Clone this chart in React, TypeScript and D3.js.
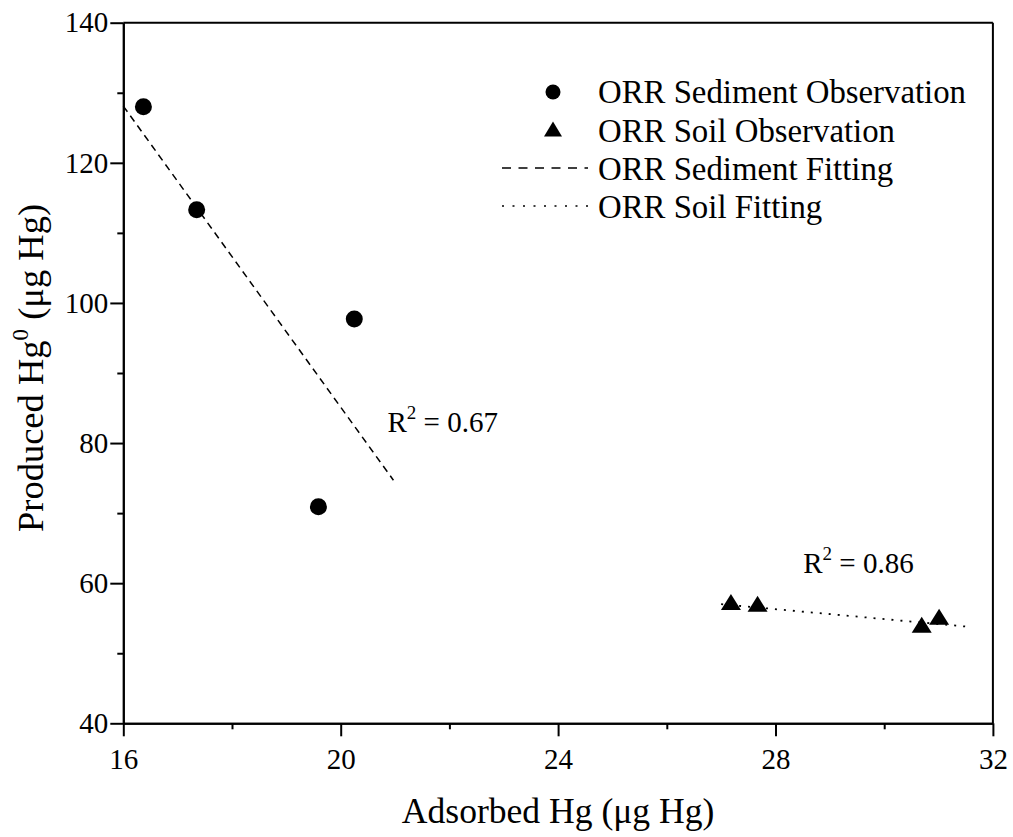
import React, { useEffect, useRef } from 'react';
import * as d3 from 'd3';

// values
const xTicks = [16, 20, 24, 28, 32];
const xMinorTicks = [18, 22, 26, 30];
const yTicks = [40, 60, 80, 100, 120, 140];
const yMinorTicks = [50, 70, 90, 110, 130];

const sedimentX = [16.37, 17.35, 20.25, 19.59];
const sedimentY = [128.0, 113.3, 97.7, 70.9];
const soilX = [27.18, 27.67, 30.69, 31.01];
const soilY = [57.3, 57.05, 54.05, 55.2];

const sedimentFitX = [16.0, 20.97];
const sedimentFitY = [128.1, 74.7];
const soilFitX = [27.0, 31.52];
const soilFitY = [57.0, 53.8];

const r2Labels = ['0.67', '0.86'];
const r2X = [20.86, 28.51];
const r2Y = [81.6, 61.4];

const legendLabels = [
    'ORR Sediment Observation',
    'ORR Soil Observation',
    'ORR Sediment Fitting',
    'ORR Soil Fitting',
];

const FONT = '"Liberation Serif", "Times New Roman", serif';

const trianglePath = (w, h) => `M0,${-h / 2}L${w / 2},${h / 2}L${-w / 2},${h / 2}Z`;

const createChart = (container) => {
    d3.select(container).selectAll('*').remove();

    const W = 1013, H = 837;
    const margin = { top: 22.7, right: 20.1, bottom: 113.7, left: 123.3 },
        width = W - margin.left - margin.right,
        height = H - margin.top - margin.bottom;

    const svg = d3.select(container)
        .attr('width', W)
        .attr('height', H);
    svg.append('rect').attr('width', W).attr('height', H).attr('fill', '#fff');

    const chart = svg.append('g')
        .attr('transform', `translate(${margin.left},${margin.top})`);

    const x = d3.scaleLinear().domain([16, 32]).range([0, width]);
    const y = d3.scaleLinear().domain([40, 140]).range([height, 0]);

    // frame (top + right)
    chart.append('line').attr('x1', 0).attr('x2', width).attr('y1', 0).attr('y2', 0)
        .attr('stroke', '#000').attr('stroke-width', 2);
    chart.append('line').attr('x1', width).attr('x2', width).attr('y1', 0).attr('y2', height)
        .attr('stroke', '#000').attr('stroke-width', 2);

    const styleAxis = (g) => {
        g.select('.domain').attr('stroke', '#000').attr('stroke-width', 2);
        g.selectAll('.tick line').attr('stroke', '#000').attr('stroke-width', 2);
        g.selectAll('.tick text').attr('fill', '#000')
            .style('font-family', FONT).style('font-size', '29px');
    };

    const xAxis = chart.append('g')
        .attr('transform', `translate(0,${height})`)
        .call(d3.axisBottom(x).tickValues(xTicks).tickSize(13).tickSizeOuter(0).tickPadding(12).tickFormat(d3.format('d')));
    styleAxis(xAxis);
    const xMinor = chart.append('g')
        .attr('transform', `translate(0,${height})`)
        .call(d3.axisBottom(x).tickValues(xMinorTicks).tickSize(6).tickSizeOuter(0).tickFormat(() => ''));
    styleAxis(xMinor);

    const yAxis = chart.append('g')
        .call(d3.axisLeft(y).tickValues(yTicks).tickSize(13).tickSizeOuter(0).tickPadding(2).tickFormat(d3.format('d')));
    styleAxis(yAxis);
    const yMinor = chart.append('g')
        .call(d3.axisLeft(y).tickValues(yMinorTicks).tickSize(6).tickSizeOuter(0).tickFormat(() => ''));
    styleAxis(yMinor);

    // fitted lines
    const line = d3.line().x(d => x(d[0])).y(d => y(d[1]));
    chart.append('path')
        .datum(d3.zip(sedimentFitX, sedimentFitY))
        .attr('d', line)
        .attr('fill', 'none').attr('stroke', '#000').attr('stroke-width', 1.5)
        .attr('stroke-dasharray', '7,5');
    chart.append('path')
        .datum(d3.zip(soilFitX, soilFitY))
        .attr('d', line)
        .attr('fill', 'none').attr('stroke', '#000').attr('stroke-width', 1.8)
        .attr('stroke-dasharray', '2,7');

    // observations
    chart.selectAll('.sed')
        .data(d3.zip(sedimentX, sedimentY))
        .enter().append('circle')
        .attr('class', 'sed')
        .attr('cx', d => x(d[0]))
        .attr('cy', d => y(d[1]))
        .attr('r', 8.5)
        .attr('fill', '#000');

    chart.selectAll('.soil')
        .data(d3.zip(soilX, soilY))
        .enter().append('path')
        .attr('class', 'soil')
        .attr('transform', d => `translate(${x(d[0])},${y(d[1])})`)
        .attr('d', trianglePath(20, 16))
        .attr('fill', '#000');

    // R² annotations
    r2Labels.forEach((lab, i) => {
        const t = chart.append('text')
            .attr('x', x(r2X[i]))
            .attr('y', y(r2Y[i]))
            .style('font-family', FONT)
            .style('font-size', '29px')
            .attr('fill', '#000');
        t.append('tspan').text('R');
        t.append('tspan').attr('dy', -13).style('font-size', '19px').text('2');
        t.append('tspan').attr('dy', 13).text(` = ${lab}`);
    });

    // legend
    const legend = svg.append('g').attr('transform', 'translate(553,0)');
    const rowY = [103, 141.5, 180, 218];
    legend.append('circle').attr('cx', 0).attr('cy', 92).attr('r', 7.5).attr('fill', '#000');
    legend.append('path').attr('transform', 'translate(0,129)').attr('d', trianglePath(18, 15)).attr('fill', '#000');
    legend.append('line').attr('x1', -51).attr('x2', 35).attr('y1', 168).attr('y2', 168)
        .attr('stroke', '#000').attr('stroke-width', 1.5).attr('stroke-dasharray', '9,7.5');
    legend.append('line').attr('x1', -51).attr('x2', 35).attr('y1', 206).attr('y2', 206)
        .attr('stroke', '#000').attr('stroke-width', 1.5).attr('stroke-dasharray', '2,8.5');
    legend.selectAll('.leg-text')
        .data(legendLabels)
        .enter().append('text')
        .attr('x', 45)
        .attr('y', (d, i) => rowY[i])
        .style('font-family', FONT)
        .style('font-size', '32.8px')
        .attr('fill', '#000')
        .text(d => d);

    // axis titles
    const xt = svg.append('text')
        .attr('x', margin.left + width / 2)
        .attr('y', 823)
        .attr('text-anchor', 'middle')
        .style('font-family', FONT)
        .style('font-size', '35.6px')
        .attr('fill', '#000');
    xt.append('tspan').text('Adsorbed Hg (μg Hg)');

    const yt = svg.append('text')
        .attr('transform', `translate(43,${margin.top + height / 2 - 5}) rotate(-90)`)
        .attr('text-anchor', 'middle')
        .style('font-family', FONT)
        .style('font-size', '36.5px')
        .attr('fill', '#000');
    yt.append('tspan').text('Produced Hg');
    yt.append('tspan').attr('dy', -15).style('font-size', '23px').text('0');
    yt.append('tspan').attr('dy', 15).text(' (μg Hg)');
};

const App = () => {
    const d3Container = useRef(null);

    useEffect(() => {
        if (d3Container.current) {
            createChart(d3Container.current);
        }
    }, []);

    return (
        <div>
            <svg ref={d3Container} style={{ position: 'absolute', left: 0, top: 0, display: 'block' }} />
        </div>
    );
};

export default App;
